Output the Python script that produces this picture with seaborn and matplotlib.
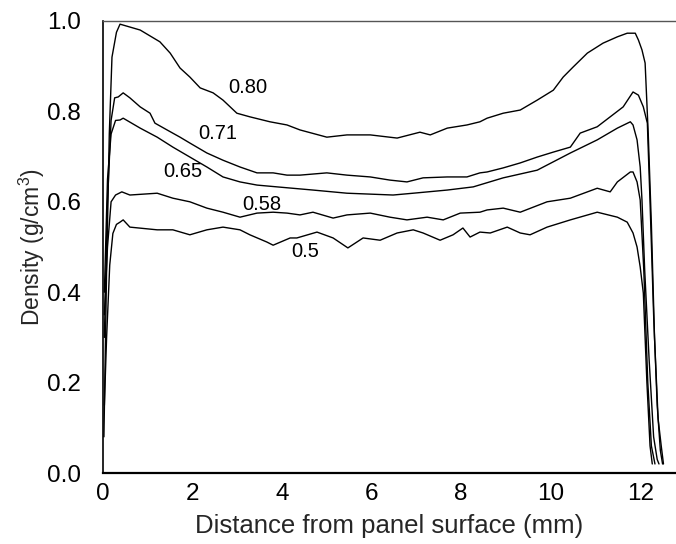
import matplotlib
matplotlib.use("Agg")
import matplotlib.pyplot as plt
import seaborn as sns
import pandas as pd

# Density profiles (x: distance in mm, y: density g/cm3)
x_080 = [0.02, 0.08, 0.14, 0.20, 0.30, 0.38, 0.83, 1.27, 1.50, 1.72, 1.94, 2.17, 2.46, 2.68, 2.99, 3.28,
         3.73, 4.11, 4.40, 5.00, 5.45, 5.97, 6.57, 7.08, 7.31, 7.69, 8.13, 8.42, 8.58, 8.94, 9.32, 9.70,
         10.06, 10.28, 10.50, 10.82, 11.17, 11.49, 11.71, 11.89, 11.96, 12.04, 12.11, 12.18, 12.25,
         12.32, 12.40, 12.47, 12.52]
y_080 = [0.08, 0.45, 0.75, 0.92, 0.975, 0.993, 0.980, 0.954, 0.929, 0.896, 0.876, 0.852, 0.841, 0.825,
         0.796, 0.788, 0.777, 0.770, 0.759, 0.743, 0.748, 0.748, 0.741, 0.754, 0.748, 0.763, 0.770, 0.777,
         0.785, 0.796, 0.803, 0.825, 0.847, 0.876, 0.898, 0.929, 0.951, 0.965, 0.973, 0.973, 0.958,
         0.936, 0.907, 0.75, 0.55, 0.30, 0.12, 0.06, 0.02]

x_071 = [0.03, 0.10, 0.18, 0.26, 0.34, 0.45, 0.60, 0.83, 1.05, 1.16, 1.43, 1.72, 1.94, 2.32, 2.68, 3.06,
         3.44, 3.80, 4.11, 4.40, 5.00, 5.45, 5.97, 6.41, 6.79, 7.15, 7.69, 8.13, 8.42, 8.58, 8.94, 9.32,
         9.70, 10.06, 10.44, 10.66, 11.04, 11.33, 11.62, 11.84, 11.96, 12.07, 12.16, 12.22, 12.30,
         12.38, 12.45, 12.50]
y_071 = [0.30, 0.60, 0.78, 0.83, 0.832, 0.841, 0.830, 0.810, 0.796, 0.774, 0.759, 0.743, 0.730, 0.708,
         0.692, 0.677, 0.664, 0.664, 0.659, 0.659, 0.664, 0.659, 0.655, 0.648, 0.644, 0.653, 0.655, 0.655,
         0.664, 0.666, 0.675, 0.686, 0.699, 0.710, 0.721, 0.752, 0.766, 0.788, 0.810, 0.843, 0.836,
         0.810, 0.774, 0.60, 0.35, 0.15, 0.05, 0.02]

x_065 = [0.03, 0.10, 0.18, 0.28, 0.38, 0.45, 0.83, 1.21, 1.56, 1.94, 2.32, 2.68, 3.06, 3.44, 3.89, 4.69,
         5.45, 6.48, 6.93, 7.69, 8.27, 8.94, 9.70, 10.44, 11.04, 11.49, 11.78, 11.84, 11.93, 12.00,
         12.04, 12.10, 12.20, 12.30, 12.38, 12.42]
y_065 = [0.40, 0.65, 0.75, 0.78, 0.781, 0.785, 0.763, 0.743, 0.721, 0.699, 0.677, 0.655, 0.644, 0.637,
         0.633, 0.626, 0.619, 0.615, 0.619, 0.626, 0.633, 0.653, 0.670, 0.708, 0.737, 0.763, 0.777, 0.770,
         0.737, 0.677, 0.604, 0.45, 0.25, 0.08, 0.03, 0.02]

x_058 = [0.03, 0.10, 0.18, 0.28, 0.42, 0.60, 1.21, 1.56, 1.94, 2.32, 2.68, 3.06, 3.44, 3.80, 4.11, 4.40,
         4.69, 5.14, 5.45, 5.97, 6.41, 6.79, 7.24, 7.60, 7.98, 8.42, 8.58, 8.94, 9.32, 9.92, 10.44,
         11.04, 11.33, 11.49, 11.78, 11.84, 11.93, 12.00, 12.08, 12.17, 12.25, 12.33]
y_058 = [0.35, 0.50, 0.60, 0.615, 0.622, 0.615, 0.619, 0.608, 0.600, 0.586, 0.577, 0.566, 0.575, 0.577,
         0.575, 0.571, 0.577, 0.564, 0.571, 0.575, 0.566, 0.560, 0.566, 0.560, 0.575, 0.577, 0.582, 0.586,
         0.577, 0.600, 0.608, 0.630, 0.622, 0.644, 0.666, 0.666, 0.644, 0.604, 0.45, 0.20, 0.06, 0.02]

x_050 = [0.03, 0.08, 0.15, 0.22, 0.30, 0.38, 0.45, 0.60, 1.21, 1.56, 1.94, 2.32, 2.68, 3.06, 3.28, 3.66,
         3.80, 4.18, 4.33, 4.78, 5.14, 5.47, 5.81, 6.19, 6.57, 6.93, 7.15, 7.53, 7.82, 8.04, 8.20, 8.42,
         8.65, 9.03, 9.32, 9.54, 9.92, 10.44, 11.04, 11.49, 11.71, 11.84, 11.93, 12.00, 12.07, 12.15,
         12.22, 12.27]
y_050 = [0.15, 0.30, 0.46, 0.53, 0.55, 0.555, 0.560, 0.544, 0.538, 0.538, 0.527, 0.538, 0.544, 0.538,
         0.527, 0.511, 0.504, 0.520, 0.520, 0.533, 0.520, 0.498, 0.520, 0.515, 0.531, 0.538, 0.531, 0.515,
         0.527, 0.542, 0.522, 0.533, 0.531, 0.544, 0.531, 0.527, 0.544, 0.560, 0.577, 0.566, 0.555, 0.531,
         0.500, 0.456, 0.398, 0.20, 0.06, 0.02]

curve_names = ["0.80", "0.71", "0.65", "0.58", "0.5"]
curve_x = [x_080, x_071, x_065, x_058, x_050]
curve_y = [y_080, y_071, y_065, y_058, y_050]
label_x = [3.24, 2.57, 1.79, 3.55, 4.51]
label_y = [0.852, 0.752, 0.666, 0.593, 0.489]

x_ticks = [0, 2, 4, 6, 8, 10, 12]
y_ticks = [0.0, 0.2, 0.4, 0.6, 0.8, 1.0]

frames = []
for name, xs, ys in zip(curve_names, curve_x, curve_y):
    frames.append(pd.DataFrame({"x": xs, "y": ys, "curve": name}))
df = pd.concat(frames, ignore_index=True)

sns.set_theme(style="white")
plt.rcParams["font.family"] = ["Liberation Sans", "DejaVu Sans"]
plt.rcParams["mathtext.fontset"] = "custom"
plt.rcParams["mathtext.rm"] = "Liberation Sans"

fig = plt.figure(figsize=(6.76, 5.44), dpi=100)
ax = fig.add_axes([0.1524, 0.1305, 0.8476, 0.8309])

sns.lineplot(data=df, x="x", y="y", units="curve", estimator=None, sort=False,
             color="black", linewidth=1.0, ax=ax, legend=False)

for name, lx, ly in zip(curve_names, label_x, label_y):
    ax.text(lx, ly, name, fontsize=14.5, ha="center", va="center", color="black")

ax.set_xlim(0, 12.8)
ax.set_ylim(0, 1.0)
ax.set_xticks(x_ticks)
ax.set_yticks(y_ticks)
ax.set_yticklabels([f"{v:.1f}" for v in y_ticks])
ax.tick_params(direction="in", length=6, width=1, labelsize=17.5, colors="black")
ax.tick_params(axis="y", pad=16)
ax.tick_params(axis="x", pad=7)

ax.set_xlabel("Distance from panel surface (mm)", fontsize=18.5, labelpad=7)
ax.set_ylabel("Density (g/cm$^{\\mathrm{3}}$)", fontsize=16.5, labelpad=0)

for s in ["left", "bottom"]:
    ax.spines[s].set_color("black")
ax.spines["left"].set_linewidth(1.2)
ax.spines["bottom"].set_linewidth(1.6)
ax.spines["top"].set_color("#555555")
ax.spines["top"].set_linewidth(1.0)
ax.spines["right"].set_visible(False)

fig.savefig("out.png", dpi=100)
